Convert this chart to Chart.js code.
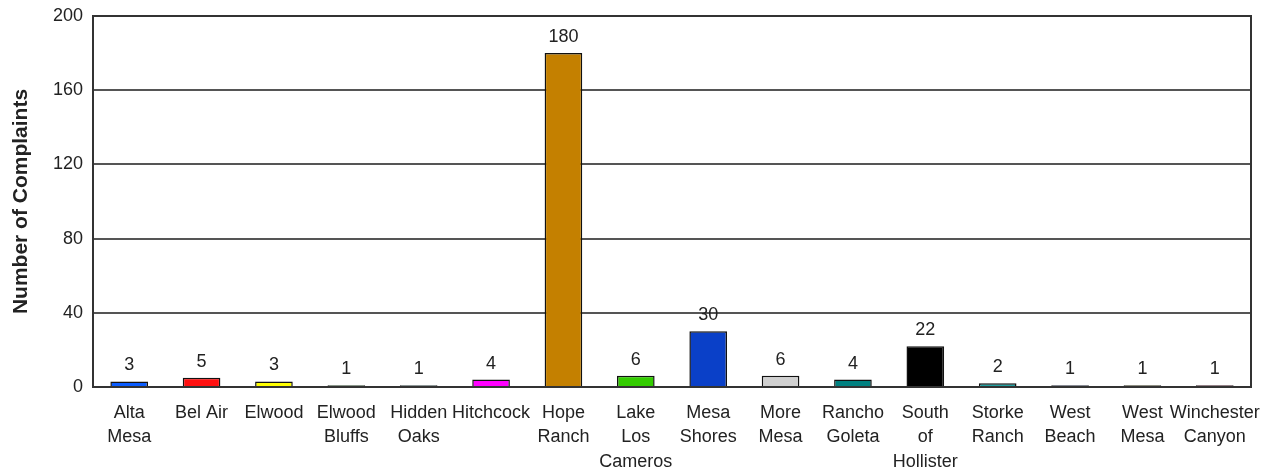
<!DOCTYPE html>
<html>
<head>
<meta charset="utf-8">
<script src="https://cdn.jsdelivr.net/npm/chart.js@4"></script>
<style>
  html, body { margin: 0; padding: 0; background: #fff; }
  #wrap { width: 1280px; height: 472px; }
</style>
</head>
<body>
<div id="wrap"><canvas id="complaintsChart"></canvas></div>
<script>
// Complaints by neighbourhood
const areas = [
    ['Alta', 'Mesa'], 'Bel Air', 'Elwood', ['Elwood', 'Bluffs'], ['Hidden', 'Oaks'], 'Hitchcock',
    ['Hope', 'Ranch'], ['Lake', 'Los', 'Cameros'], ['Mesa', 'Shores'], ['More', 'Mesa'],
    ['Rancho', 'Goleta'], ['South', 'of', 'Hollister'], ['Storke', 'Ranch'], ['West', 'Beach'],
    ['West', 'Mesa'], ['Winchester', 'Canyon']
];
const complaints = [3, 5, 3, 1, 1, 4, 180, 6, 30, 6, 4, 22, 2, 1, 1, 1];
const barColors = [
    '#0a5cff', '#ff1010', '#ffff00', '#1a3a1a', '#203a3a', '#ff00ff',
    '#c48000', '#33cc00', '#0a40c8', '#d0d0d0',
    '#008080', '#000000', '#20a0a0', '#101830', '#202000', '#300010'
];
const yTicks = [0, 40, 80, 120, 160, 200];

Chart.defaults.font.family = "'Liberation Sans', Arial, sans-serif";
Chart.defaults.color = '#222';

// value labels above bars + right/top frame
const valueLabels = {
    id: 'valueLabels',
    afterDatasetsDraw(chart) {
        const ctx = chart.ctx;
        const meta = chart.getDatasetMeta(0);
        ctx.save();
        ctx.font = "18px 'Liberation Sans', Arial, sans-serif";
        ctx.fillStyle = '#222';
        ctx.textAlign = 'center';
        ctx.textBaseline = 'bottom';
        meta.data.forEach((bar, i) => {
            ctx.fillText(complaints[i], bar.x, bar.y - 7);
        });
        const a = chart.chartArea;
        ctx.strokeStyle = '#333';
        ctx.lineWidth = 2;
        ctx.strokeRect(a.left, a.top, a.right - a.left, a.bottom - a.top);
        ctx.restore();
    }
};

new Chart(document.getElementById('complaintsChart'), {
    type: 'bar',
    data: {
        labels: areas,
        datasets: [{
            label: 'Number of Complaints',
            data: complaints,
            backgroundColor: barColors,
            borderColor: '#111',
            borderWidth: 1.5,
            categoryPercentage: 1,
            barPercentage: 0.52
        }]
    },
    options: {
        responsive: true,
        maintainAspectRatio: false,
        animation: false,
        layout: { padding: { top: 16, right: 29, left: 0, bottom: 0 } },
        plugins: {
            legend: { display: false },
            tooltip: { enabled: false }
        },
        scales: {
            x: {
                grid: { display: false, drawTicks: false },
                border: { color: '#333', width: 2 },
                ticks: {
                    font: { size: 18, lineHeight: 1.35 },
                    color: '#222',
                    maxRotation: 0,
                    autoSkip: false,
                    padding: 14
                },
                afterFit(axis) { axis.height = 85; }
            },
            y: {
                min: 0,
                max: 200,
                afterBuildTicks(axis) { axis.ticks = yTicks.map(v => ({ value: v })); },
                grid: { color: '#555', lineWidth: 2, drawTicks: false },
                border: { color: '#333', width: 2 },
                ticks: { font: { size: 18 }, color: '#222', padding: 10 },
                title: {
                    display: true,
                    text: 'Number of Complaints',
                    font: { size: 21, weight: 'bold' },
                    color: '#222',
                    padding: { top: 9, bottom: 0 }
                },
                afterFit(axis) {
                    axis.width = 93;
                    axis.paddingTop = 0;
                    axis.paddingBottom = 0;
                }
            }
        }
    },
    plugins: [valueLabels]
});
</script>
</body>
</html>
